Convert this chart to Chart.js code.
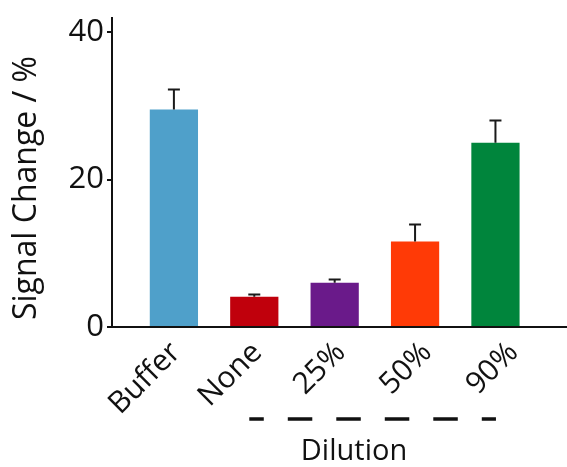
<!DOCTYPE html>
<html>
<head>
<meta charset="utf-8">
<script src="https://cdn.jsdelivr.net/npm/chart.js@4"></script>
<style>
  body { margin: 0; background: #fff; }
  #wrap { width: 567px; height: 467px; }
</style>
</head>
<body>
<div id="wrap"><canvas id="grafico"></canvas></div>
<script>
var categorias = ["Buffer", "None", "25%", "50%", "90%"];
var valores = [29.5, 4.1, 6.0, 11.6, 25.0];
var erros = [2.7, 0.3, 0.45, 2.3, 3.0];
var cores = ["#4fa0ca", "#c0000c", "#6a1a8a", "#ff3a06", "#00853c"];
var yTicks = [0, 20, 40];

var fonte = "'Open Sans', sans-serif";
// pequeno deslocamento (px) dos rotulos do eixo x, como no original
var deslocRotulo = [2, 3, 6, 12, 18];

// barras de erro (so para cima) e anotacoes
var extras = {
  id: "extras",
  afterDatasetsDraw: function(chart) {
    var ctx = chart.ctx;
    var x = chart.scales.x, y = chart.scales.y;
    ctx.save();
    ctx.strokeStyle = "#1a1a1a";
    ctx.lineWidth = 2;
    for (var i = 0; i < valores.length; i++) {
      var px = x.getPixelForValue(i);
      var top = y.getPixelForValue(valores[i] + erros[i]);
      var base = y.getPixelForValue(valores[i]);
      ctx.beginPath();
      ctx.moveTo(px, base);
      ctx.lineTo(px, top);
      ctx.moveTo(px - 6, top);
      ctx.lineTo(px + 6, top);
      ctx.stroke();
    }
    ctx.restore();
  },
  afterDraw: function(chart) {
    var ctx = chart.ctx;
    var x = chart.scales.x;
    ctx.save();
    // linha tracejada
    ctx.strokeStyle = "#111";
    ctx.lineWidth = 3.5;
    ctx.setLineDash([24.5, 24]);
    ctx.lineDashOffset = 10;
    ctx.beginPath();
    ctx.moveTo(x.getPixelForValue(1) - 5, 419);
    ctx.lineTo(x.getPixelForValue(4) + 0.5, 419);
    ctx.stroke();
    ctx.setLineDash([]);
    ctx.fillStyle = "#111";
    ctx.font = "29px " + fonte;
    ctx.textAlign = "center";
    ctx.textBaseline = "middle";
    ctx.fillText("Dilution", 354, 452);
    // titulo eixo y
    ctx.translate(27, 188);
    ctx.rotate(-Math.PI / 2);
    ctx.font = "32px " + fonte;
    ctx.fillText("Signal Change / %", 0, 0);
    ctx.restore();
  }
};

new Chart("grafico", {
  type: "bar",
  data: {
    datasets: [{
      data: valores.map(function(v, i) { return {x: i, y: v}; }),
      backgroundColor: cores,
      borderWidth: 0,
      barPercentage: 0.6,
      categoryPercentage: 1
    }]
  },
  options: {
    responsive: true,
    maintainAspectRatio: false,
    animation: false,
    layout: { padding: { top: 18, right: 0, left: 0, bottom: 0 } },
    plugins: { legend: {display: false}, tooltip: {enabled: false} },
    scales: {
      x: {
        type: "linear",
        offset: false,
        min: -0.77,
        max: 4.89,
        afterBuildTicks: function(s) {
          var u = s.width / (s.max - s.min) || 80.5;
          s.ticks = categorias.map(function(c, i) { return {value: i + deslocRotulo[i] / u}; });
        },
        afterFit: function(s) { s.height = 140; s.paddingRight = 0; s.paddingLeft = 0; },
        grid: { display: false, drawTicks: false },
        border: { display: true, color: "#111", width: 2 },
        ticks: {
          autoSkip: false,
          minRotation: 45,
          maxRotation: 45,
          padding: 8,
          color: "#111",
          font: { family: fonte, size: 30 },
          callback: function(v) { return categorias[Math.round(v)]; }
        }
      },
      y: {
        min: 0,
        max: 41.9,
        afterBuildTicks: function(s) { s.ticks = yTicks.map(function(v) { return {value: v}; }); },
        afterFit: function(s) { s.width = 112; s.paddingTop = 0; s.paddingBottom = 0; },
        grid: { drawOnChartArea: false, drawTicks: true, tickLength: 5, color: "#111", lineWidth: 2 },
        border: { display: true, color: "#111", width: 2 },
        ticks: {
          padding: 3,
          color: "#111",
          font: { family: fonte, size: 31 }
        }
      }
    }
  },
  plugins: [extras]
});
</script>
</body>
</html>
